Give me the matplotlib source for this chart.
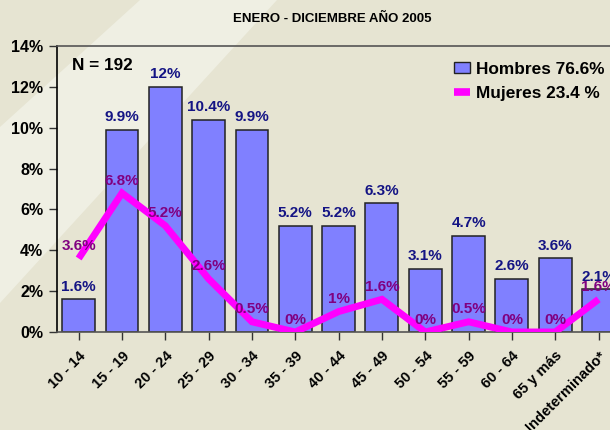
import matplotlib
matplotlib.use("Agg")
import matplotlib.pyplot as plt
from matplotlib.patches import Polygon, Patch
from matplotlib.lines import Line2D

categories = ["10 - 14", "15 - 19", "20 - 24", "25 - 29", "30 - 34", "35 - 39",
              "40 - 44", "45 - 49", "50 - 54", "55 - 59", "60 - 64", "65 y más",
              "Indeterminado*"]
hombres = [1.6, 9.9, 12, 10.4, 9.9, 5.2, 5.2, 6.3, 3.1, 4.7, 2.6, 3.6, 2.1]
mujeres = [3.6, 6.8, 5.2, 2.6, 0.5, 0, 1, 1.6, 0, 0.5, 0, 0, 1.6]
hombres_labels = ["1.6%", "9.9%", "12%", "10.4%", "9.9%", "5.2%", "5.2%", "6.3%",
                  "3.1%", "4.7%", "2.6%", "3.6%", "2.1%"]
mujeres_labels = ["3.6%", "6.8%", "5.2%", "2.6%", "0.5%", "0%", "1%", "1.6%",
                  "0%", "0.5%", "0%", "0%", "1.6%"]
yticks = [0, 2, 4, 6, 8, 10, 12, 14]
title = "ENERO - DICIEMBRE AÑO 2005"
legend_labels = ["Hombres 76.6%", "Mujeres 23.4 %"]

plt.rcParams['font.family'] = ['Liberation Sans', 'DejaVu Sans']

W, H = 610, 430
fig = plt.figure(figsize=(W / 100, H / 100), dpi=100)
bg = '#E6E4D2'
light = '#EFEFE3'
fig.patch.set_facecolor(bg)

# background axes with a lighter diagonal band
bgax = fig.add_axes([0, 0, 1, 1], zorder=-1)
bgax.set_xlim(0, W)
bgax.set_ylim(H, 0)
bgax.axis('off')
bgax.add_patch(Polygon([(140, 0), (277, 0), (0, 303), (0, 127)], closed=True,
                       facecolor=light, edgecolor='none'))

ax = fig.add_axes([57 / W, 1 - 332 / H, 1 - 57 / W, (332 - 46) / H], zorder=1)
ax.set_facecolor('none')

x = list(range(len(categories)))
bar_color = '#8080FF'
ax.bar(x, hombres, width=0.76, color=bar_color, edgecolor='#222222',
       linewidth=1.1, zorder=2)
ax.plot(x, mujeres, color='#FF00FF', linewidth=5, solid_capstyle='butt',
        solid_joinstyle='miter', zorder=3)

for xi, v, lab in zip(x, hombres, hombres_labels):
    ax.annotate(lab, (xi, v), xytext=(0, 9), textcoords='offset points',
                ha='center', va='center', fontsize=11, fontweight='bold',
                color='#141484', zorder=5, annotation_clip=False)
for xi, v, lab in zip(x, mujeres, mujeres_labels):
    ax.annotate(lab, (xi, v), xytext=(0, 9), textcoords='offset points',
                ha='center', va='center', fontsize=11, fontweight='bold',
                color='#800080', zorder=5, annotation_clip=False)

ax.set_xlim(-0.5, (610 - 79) / 43.3)
ax.set_ylim(0, 14)
ax.set_yticks(yticks)
ax.set_yticklabels([f"{t}%" for t in yticks], fontsize=11.5, fontweight='bold')
ax.set_xticks(x)
ax.set_xticklabels(categories, rotation=45, ha='right', va='top',
                   rotation_mode='anchor', fontsize=10.5, fontweight='bold')
ax.tick_params(axis='both', direction='out', length=6, width=1, color='#333333')
ax.tick_params(axis='y', pad=4)
ax.tick_params(axis='x', pad=6)

ax.spines['right'].set_visible(False)
ax.spines['left'].set_color('black')
ax.spines['left'].set_linewidth(1.2)
ax.spines['top'].set_color('#555555')
ax.spines['top'].set_linewidth(1.2)
ax.spines['bottom'].set_color('#555555')
ax.spines['bottom'].set_linewidth(1.2)

fig.text(332 / W, 1 - 19 / H, title, ha='center', va='center',
         fontsize=9.5, fontweight='bold')
fig.text(72 / W, 1 - 65 / H, "N = 192", ha='left', va='center',
         fontsize=12.3, fontweight='bold')

handles = [Patch(facecolor=bar_color, edgecolor='#222222', linewidth=1.0),
           Line2D([0], [0], color='#FF00FF', linewidth=5.5, solid_capstyle='butt')]
fig.legend(handles, legend_labels, loc='upper left',
           bbox_to_anchor=(454 / W, 1 - 62 / H), frameon=False,
           prop={'family': 'Liberation Sans', 'weight': 'bold', 'size': 12.4},
           handlelength=0.95, handleheight=0.6, handletextpad=0.3,
           labelspacing=0.5, borderpad=0, borderaxespad=0)

fig.savefig("out.png", dpi=100, facecolor=fig.get_facecolor())
